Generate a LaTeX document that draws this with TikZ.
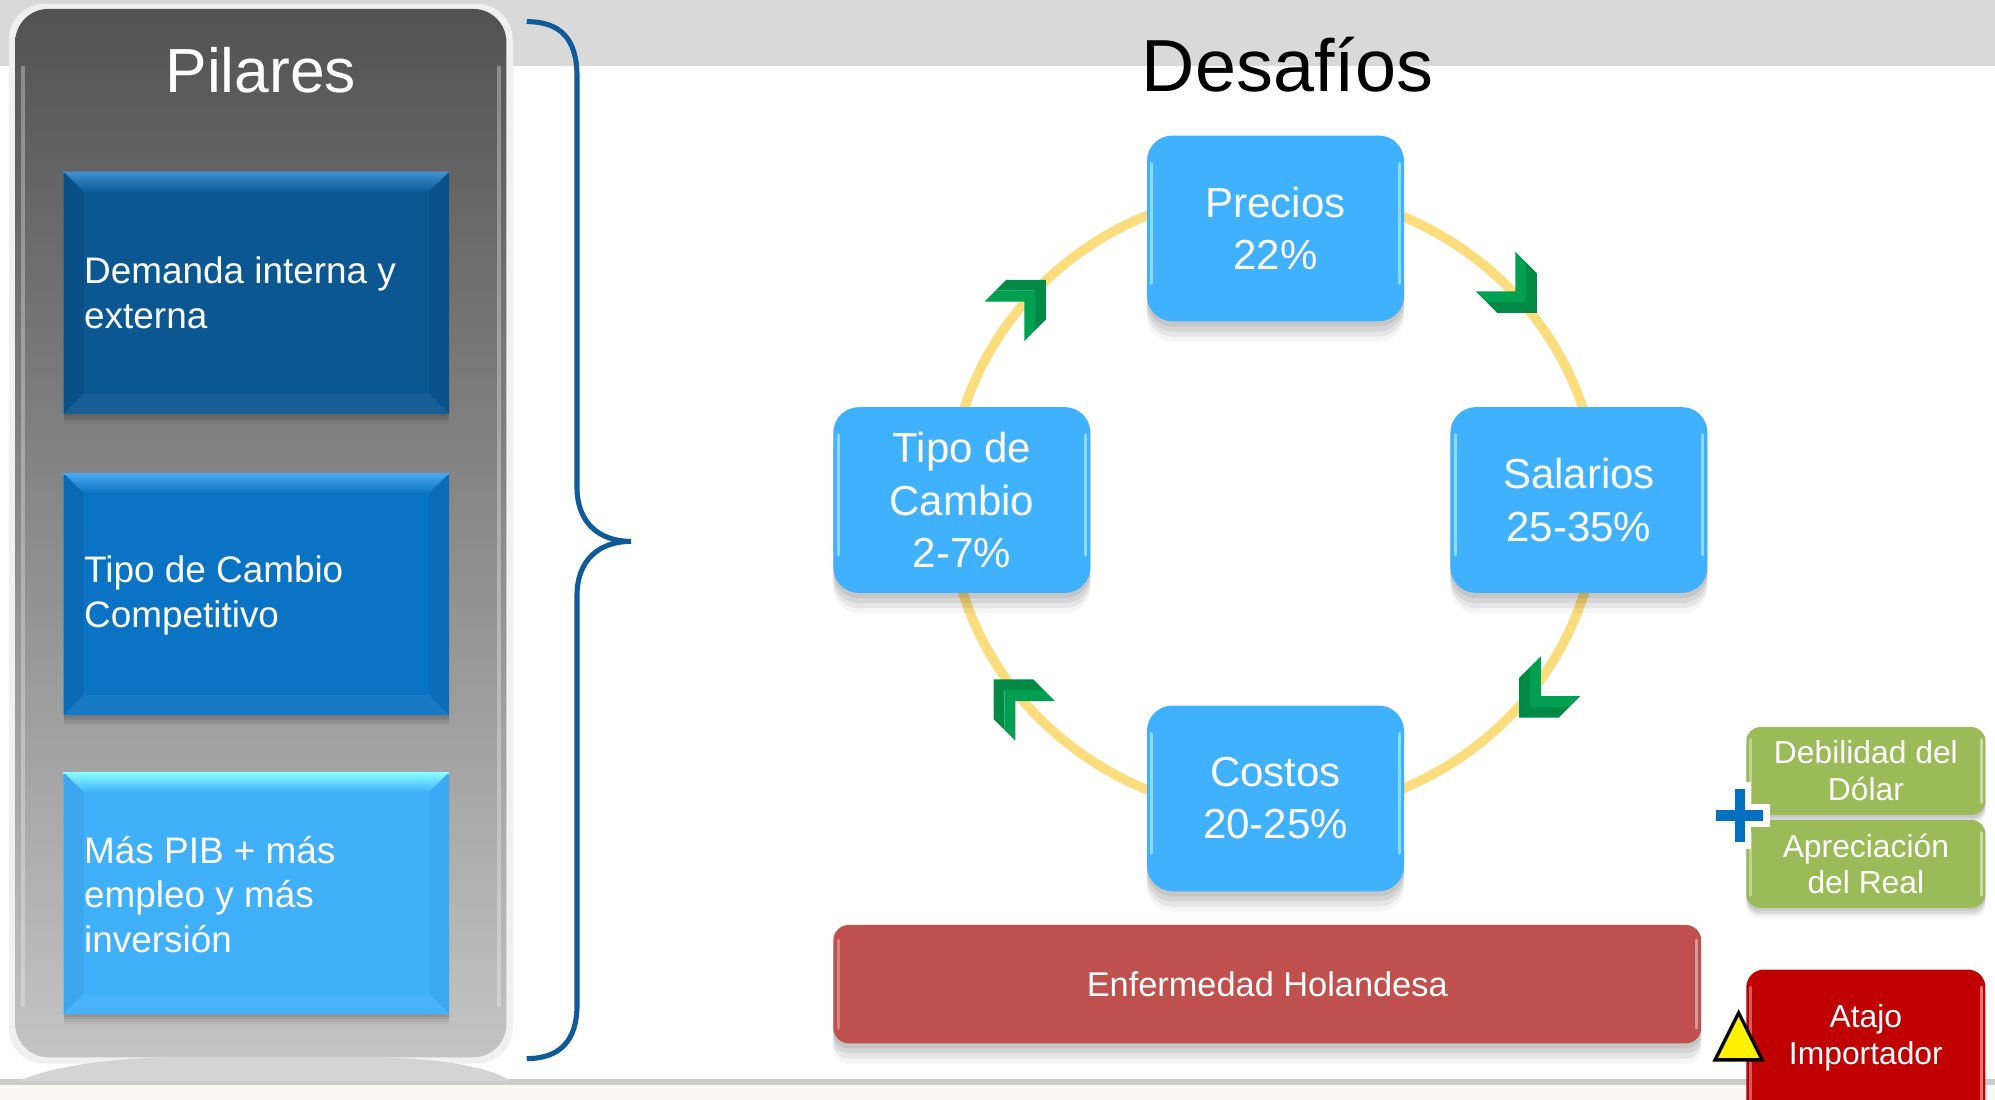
\documentclass[tikz,border=0pt]{standalone}
\usepackage{fontspec}
\setmainfont{Liberation Sans}
\definecolor{bandgray}{HTML}{D9D9D9}
\definecolor{linegray}{HTML}{CBCBCB}
\definecolor{cream}{HTML}{F9F9F2}
\definecolor{panTop}{HTML}{525252}
\definecolor{panBot}{HTML}{C4C4C4}
\definecolor{bA}{HTML}{0B5792}
\definecolor{bAtop}{HTML}{3F93D6}
\definecolor{bB}{HTML}{0A73C3}
\definecolor{bBtop}{HTML}{4AA8EE}
\definecolor{bC}{HTML}{40B0FB}
\definecolor{bCtop}{HTML}{8AFFFF}
\definecolor{cblue}{HTML}{40B1FE}
\definecolor{ring}{HTML}{FCDD7D}
\definecolor{cgreen}{HTML}{9BBB59}
\definecolor{enf}{HTML}{C0504D}
\definecolor{atajo}{HTML}{C00000}
\definecolor{bracec}{HTML}{0E5B98}
\definecolor{plusc}{HTML}{0070C0}
\definecolor{chevD}{HTML}{008A45}
\definecolor{chevL}{HTML}{00A050}
\newcommand{\mychev}[3]{%
  \begin{scope}[shift={(#1,#2)}, x=1pt, y=1pt, rotate=#3]
    \fill[chevD] (0,0) -- (-22,22) -- (-34,22) -- (-12,0) -- (-34,-22) -- (-22,-22) -- cycle;
    \fill[chevL] (-12,0) -- (-34,22) -- (-46,22) -- (-24,0) -- (-46,-22) -- (-34,-22) -- cycle;
  \end{scope}}
\begin{document}
\begin{tikzpicture}[x=1pt,y=-1pt,
  softshadow/.style={
    preaction={fill=black, opacity=.07, transform canvas={yshift=-#1*0.25pt}},
    preaction={fill=black, opacity=.07, transform canvas={yshift=-#1*0.5pt}},
    preaction={fill=black, opacity=.06, transform canvas={yshift=-#1*0.75pt}},
    preaction={fill=black, opacity=.04, transform canvas={yshift=-#1*1pt}}},
  pbox/.style={rectangle, inner sep=0pt, minimum width=303pt, minimum height=190pt, softshadow=8},
  ptext/.style={anchor=west, text=white, align=left, inner sep=0pt,
    font=\fontsize{29}{35}\selectfont},
  cbox/.style={rectangle, rounded corners=20pt, fill=cblue, inner sep=0pt,
    minimum width=202pt, minimum height=146pt, text=white, align=center,
    font=\fontsize{33}{41}\selectfont, softshadow=16},
  gbox/.style={rectangle, rounded corners=11pt, fill=cgreen, inner sep=0pt,
    minimum width=188pt, minimum height=69pt, text=white, align=center,
    font=\fontsize{25}{29}\selectfont, softshadow=8},
  gloss/.style={draw=#1, line width=2.2pt, line cap=round},
  gloss/.default={white}
]
\useasboundingbox (0,0) rectangle (1568,864.5);
\clip (0,0) rectangle (1568,864.5);
% background
\fill[white] (0,0) rectangle (1568,864.5);
\fill[bandgray] (0,0) rectangle (1568,52);
\fill[cream] (0,852) rectangle (1568,864.5);
\fill[linegray] (0,848) rectangle (1568,853);
% panel glow and base
\fill[black!6, rounded corners=28pt] (7,3) rectangle (403,836);
\fill[black!17] (14,850) .. controls (40,838) and (90,831) .. (140,831) -- (290,831)
   .. controls (340,831) and (385,838) .. (402,850) -- cycle;
% panel
\node[rectangle, rounded corners=26pt, inner sep=0pt, minimum width=386pt, minimum height=824pt,
      top color=panTop, bottom color=panBot, draw=none] (panel) at (205,419) {};
\draw[white, opacity=.3, line width=3pt] ([xshift=6pt,yshift=-45pt]panel.north west) -- ([xshift=6pt,yshift=40pt]panel.south west);
\draw[white, opacity=.3, line width=3pt] ([xshift=-6pt,yshift=-45pt]panel.north east) -- ([xshift=-6pt,yshift=40pt]panel.south east);
\node[anchor=base, text=white, font=\fontsize{49}{58}\selectfont, inner sep=0pt] (pil) at (205,73) {Pilares};
% pillar boxes
\foreach \nm/\yy/\base/\top/\bot in {pa/230/bA/bAtop/bA!85!black, pb/467/bB/bBtop/bB!85!black, pc/702/bC/bCtop/bC!90!black}{
  \node[pbox, fill=\base] (\nm) at (201.5,\yy) {};
  \shade[top color=\top, bottom color=\base] (\nm.north west) -- (\nm.north east) -- ([xshift=-16pt,yshift=-16pt]\nm.north east) -- ([xshift=16pt,yshift=-16pt]\nm.north west) -- cycle;
  \fill[\bot, opacity=.5] (\nm.north west) -- ([xshift=16pt,yshift=-16pt]\nm.north west) -- ([xshift=16pt,yshift=16pt]\nm.south west) -- (\nm.south west) -- cycle;
  \fill[\bot, opacity=.35] (\nm.north east) -- ([xshift=-16pt,yshift=-16pt]\nm.north east) -- ([xshift=-16pt,yshift=16pt]\nm.south east) -- (\nm.south east) -- cycle;
  \fill[\base!85!white, opacity=.3] (\nm.south west) -- (\nm.south east) -- ([xshift=-16pt,yshift=16pt]\nm.south east) -- ([xshift=16pt,yshift=16pt]\nm.south west) -- cycle;
  \draw[\top, line width=1.5pt] ([yshift=-0.75pt]\nm.north west) -- ([yshift=-0.75pt]\nm.north east);
}
\node[ptext] (ta) at (66,230) {Demanda interna y\\externa};
\node[ptext] (tb) at (66,468) {Tipo de Cambio\\Competitivo};
\node[ptext] (tc) at (66,703) {Más PIB + más\\empleo y más\\inversión};
% brace
\draw[bracec, line width=4pt] (414,17) .. controls (440,17) and (453.5,30) .. (453.5,60)
  -- (453.5,383) .. controls (453.5,410) and (470,425.5) .. (496,425.5)
  .. controls (470,425.5) and (453.5,441) .. (453.5,468)
  -- (453.5,790) .. controls (453.5,818) and (440,832) .. (414,832);
% title
\node[anchor=base, text=black, font=\fontsize{58}{68}\selectfont, inner sep=0pt] (des) at (1012,72) {Desafíos};
% ring
\draw[ring, line width=7.5pt] (1001,395) ellipse [x radius=255, y radius=245];
% chevrons
\mychev{822}{220}{45}
\mychev{1208}{246}{-45}
\mychev{1194}{564}{225}
\mychev{781}{534}{135}
% cycle boxes
\node[cbox] (pre) at (1002.5,179.5) {Precios\\22\%};
\node[cbox] (sal) at (1241,393) {Salarios\\25-35\%};
\node[cbox] (cos) at (1002.5,627.5) {Costos\\20-25\%};
\node[cbox] (tip) at (756,393) {Tipo de\\Cambio\\2-7\%};
\foreach \nm in {pre,sal,cos,tip}{
  \draw[gloss=cyan!35!white, opacity=.8] ([xshift=4pt,yshift=-22pt]\nm.north west) -- ([xshift=4pt,yshift=30pt]\nm.south west);
  \draw[gloss=cyan!35!white, opacity=.8] ([xshift=-4pt,yshift=-22pt]\nm.north east) -- ([xshift=-4pt,yshift=30pt]\nm.south east);
}
% Enfermedad
\node[rectangle, rounded corners=12pt, fill=enf, inner sep=0pt, minimum width=682pt, minimum height=93pt,
  text=white, font=\fontsize{27}{32}\selectfont, softshadow=16] (enfn) at (996,773.5) {Enfermedad Holandesa};
\draw[gloss=enf!50!white, opacity=.8] ([xshift=-4pt,yshift=-12pt]enfn.north east) -- ([xshift=-4pt,yshift=12pt]enfn.south east);
\draw[gloss=enf!50!white, opacity=.6] ([xshift=4pt,yshift=-12pt]enfn.north west) -- ([xshift=4pt,yshift=12pt]enfn.south west);
% green boxes
\node[gbox] (deb) at (1466.5,606) {Debilidad del\\Dólar};
\node[gbox] (apr) at (1466.5,679) {Apreciación\\del Real};
\foreach \nm in {deb,apr}{
  \draw[gloss=cgreen!40!white, opacity=.8] ([xshift=-3.5pt,yshift=-10pt]\nm.north east) -- ([xshift=-3.5pt,yshift=10pt]\nm.south east);
  \draw[gloss=cgreen!40!white, opacity=.6] ([xshift=3.5pt,yshift=-10pt]\nm.north west) -- ([xshift=3.5pt,yshift=10pt]\nm.south west);
}
% plus
\coordinate (pc) at (1367.5,641);
\draw[white, line width=18pt] ([yshift=26pt]pc) -- ([yshift=-26pt]pc);
\draw[white, line width=18pt] ([xshift=-23.5pt]pc) -- ([xshift=23.5pt]pc);
\draw[plusc, line width=8pt] ([yshift=21pt]pc) -- ([yshift=-21pt]pc);
\draw[plusc, line width=8pt] ([xshift=-18.5pt]pc) -- ([xshift=18.5pt]pc);
% Atajo
\node[rectangle, rounded corners=14pt, fill=atajo, inner sep=0pt, minimum width=188pt, minimum height=140pt] (ata) at (1466.5,832) {};
\draw[gloss=atajo!40!white, opacity=.8] ([xshift=-3.5pt,yshift=-14pt]ata.north east) -- ([xshift=-3.5pt,yshift=14pt]ata.south east);
\draw[gloss=atajo!40!white, opacity=.6] ([xshift=3.5pt,yshift=-14pt]ata.north west) -- ([xshift=3.5pt,yshift=14pt]ata.south west);
\node[text=white, align=center, font=\fontsize{25}{29}\selectfont, inner sep=0pt] (atat) at (1466.5,815.5) {Atajo\\Importador};
% warning triangle
\coordinate (t1) at (1348,833);
\coordinate (t2) at (1385,833);
\coordinate (t3) at (1366.5,796);
\draw[fill=yellow, draw=black, line width=2.6pt, line join=miter] (t1) -- (t2) -- (t3) -- cycle;
\end{tikzpicture}
\end{document}
